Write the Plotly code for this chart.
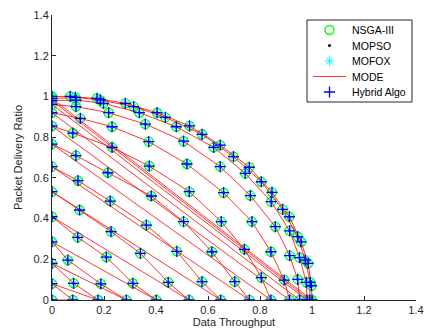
import plotly.graph_objects as go

# Points, one row per front layer (from y-axis to x-axis)
x_r13 = [0, 0.07, 0.173, 0.282, 0.404, 0.529, 0.647, 0.759, 0.846, 0.913, 0.958, 0.985, 0.998, 1.0]
y_r13 = [1.0, 1.0, 0.99, 0.966, 0.92, 0.855, 0.761, 0.652, 0.529, 0.409, 0.286, 0.18, 0.07, 0]
x_r12 = [0, 0.09, 0.186, 0.314, 0.436, 0.577, 0.698, 0.805, 0.887, 0.945, 0.974, 0.993, 0.991]
y_r12 = [0.99, 0.995, 0.982, 0.95, 0.897, 0.814, 0.704, 0.581, 0.445, 0.311, 0.196, 0.087, 0]
x_r11 = [0, 0.093, 0.198, 0.336, 0.478, 0.622, 0.743, 0.843, 0.914, 0.952, 0.978, 0.981]
y_r11 = [0.98, 0.982, 0.966, 0.92, 0.851, 0.75, 0.622, 0.483, 0.34, 0.208, 0.087, 0]
x_r10 = [0, 0.092, 0.218, 0.359, 0.506, 0.647, 0.763, 0.859, 0.914, 0.945, 0.953]
y_r10 = [0.961, 0.95, 0.92, 0.864, 0.78, 0.655, 0.513, 0.36, 0.218, 0.101, 0]
x_r9 = [0, 0.109, 0.231, 0.372, 0.519, 0.66, 0.769, 0.842, 0.893, 0.914]
y_r9 = [0.92, 0.892, 0.851, 0.778, 0.668, 0.527, 0.385, 0.237, 0.098, 0]
x_r8 = [0, 0.08, 0.231, 0.374, 0.528, 0.651, 0.74, 0.805, 0.842]
y_r8 = [0.855, 0.82, 0.75, 0.658, 0.532, 0.385, 0.249, 0.11, 0]
x_r7 = [0, 0.092, 0.215, 0.382, 0.506, 0.615, 0.703, 0.759]
y_r7 = [0.766, 0.709, 0.625, 0.511, 0.385, 0.237, 0.09, 0]
x_r6 = [0, 0.1, 0.224, 0.363, 0.48, 0.577, 0.649]
y_r6 = [0.655, 0.586, 0.486, 0.368, 0.239, 0.09, 0]
x_r5 = [0, 0.106, 0.227, 0.34, 0.447, 0.527]
y_r5 = [0.532, 0.442, 0.336, 0.229, 0.087, 0]
x_r4 = [0, 0.099, 0.209, 0.311, 0.401]
y_r4 = [0.409, 0.308, 0.211, 0.082, 0]
x_r3 = [0, 0.061, 0.188, 0.286]
y_r3 = [0.286, 0.196, 0.079, 0]
x_r2 = [0, 0.083, 0.177]
y_r2 = [0.18, 0.082, 0]
x_r1 = [0, 0.08]
y_r1 = [0.08, 0]
x_r0 = [0]
y_r0 = [0]

tick_vals = [0, 0.2, 0.4, 0.6, 0.8, 1.0, 1.2, 1.4]
tick_text = ["0", "0.2", "0.4", "0.6", "0.8", "1", "1.2", "1.4"]

series_names = ["NSGA-III", "MOPSO", "MOFOX", "MODE", "Hybrid Algo"]

xs = (x_r13 + x_r12 + x_r11 + x_r10 + x_r9 + x_r8 + x_r7 + x_r6 +
      x_r5 + x_r4 + x_r3 + x_r2 + x_r1 + x_r0)
ys = (y_r13 + y_r12 + y_r11 + y_r10 + y_r9 + y_r8 + y_r7 + y_r6 +
      y_r5 + y_r4 + y_r3 + y_r2 + y_r1 + y_r0)

font = "Arial, Liberation Sans, sans-serif"
axis_col = "#262626"

styles = {
    "NSGA-III": dict(mode="markers", marker=dict(symbol="circle-open", size=9, color="#00FF00",
                                                 line=dict(width=1.4, color="#00FF00"))),
    "MOPSO": dict(mode="markers", marker=dict(symbol="circle", size=3, color="black")),
    "MOFOX": dict(mode="markers", marker=dict(symbol="asterisk-open", size=8, color="#00FFFF",
                                              line=dict(width=1, color="#00FFFF"))),
    "MODE": dict(mode="lines", line=dict(color="#FF0000", width=0.8)),
    "Hybrid Algo": dict(mode="markers", marker=dict(symbol="cross-thin-open", size=8, color="#0000FF",
                                                    line=dict(width=1.3, color="#0000FF"))),
}

fig = go.Figure()
for name in series_names:
    fig.add_trace(go.Scatter(x=xs, y=ys, name=name, showlegend=False, **styles[name]))

# Hand-drawn legend (pixel coordinates on an overlay axis pair)
box_l, box_r, box_t, box_b = 307, 412, 20, 102
row_y = [30, 45.5, 61, 76.5, 92]
sample_x0, sample_x1, text_x = 313, 346, 350
fig.add_shape(type="rect", xref="x2", yref="y2", x0=box_l, x1=box_r, y0=box_t, y1=box_b,
              line=dict(color=axis_col, width=1), fillcolor="white", layer="below")
for name, yy in zip(series_names, row_y):
    st = styles[name]
    if st["mode"] == "lines":
        fig.add_trace(go.Scatter(x=[sample_x0, sample_x1], y=[yy, yy], mode="lines",
                                 line=st["line"], xaxis="x2", yaxis="y2",
                                 showlegend=False, hoverinfo="skip"))
    else:
        fig.add_trace(go.Scatter(x=[(sample_x0 + sample_x1) / 2], y=[yy], mode="markers",
                                 marker=st["marker"], xaxis="x2", yaxis="y2",
                                 showlegend=False, hoverinfo="skip"))
    fig.add_annotation(x=text_x, y=yy, xref="x2", yref="y2", text=name, showarrow=False,
                       xanchor="left", yanchor="middle",
                       font=dict(family=font, size=10.5, color="black"))

axis_common = dict(range=[0, 1.4], tickvals=tick_vals, ticktext=tick_text,
                   ticks="inside", ticklen=4, tickcolor=axis_col,
                   showline=True, linecolor=axis_col, linewidth=1,
                   mirror=False, showgrid=False, zeroline=False, automargin=False,
                   tickfont=dict(family=font, size=11, color=axis_col))

fig.update_layout(
    width=425, height=333,
    margin=dict(l=52, r=9, t=15, b=33),
    paper_bgcolor="white", plot_bgcolor="white",
    font=dict(family=font, size=11, color=axis_col),
    xaxis=dict(title=dict(text="Data Throughput", standoff=2,
                          font=dict(family=font, size=11, color=axis_col)),
               **axis_common),
    yaxis=dict(title=dict(text="Packet Delivery Ratio", standoff=8,
                          font=dict(family=font, size=11, color=axis_col)),
               **axis_common),
    xaxis2=dict(overlaying="x", anchor="y2", range=[52, 416], visible=False),
    yaxis2=dict(overlaying="y", anchor="x2", range=[300, 15], visible=False),
    showlegend=False,
)

fig.write_html("out.html", config={"displayModeBar": False},
               post_script="document.body.style.margin='0';document.body.style.overflow='hidden';")
